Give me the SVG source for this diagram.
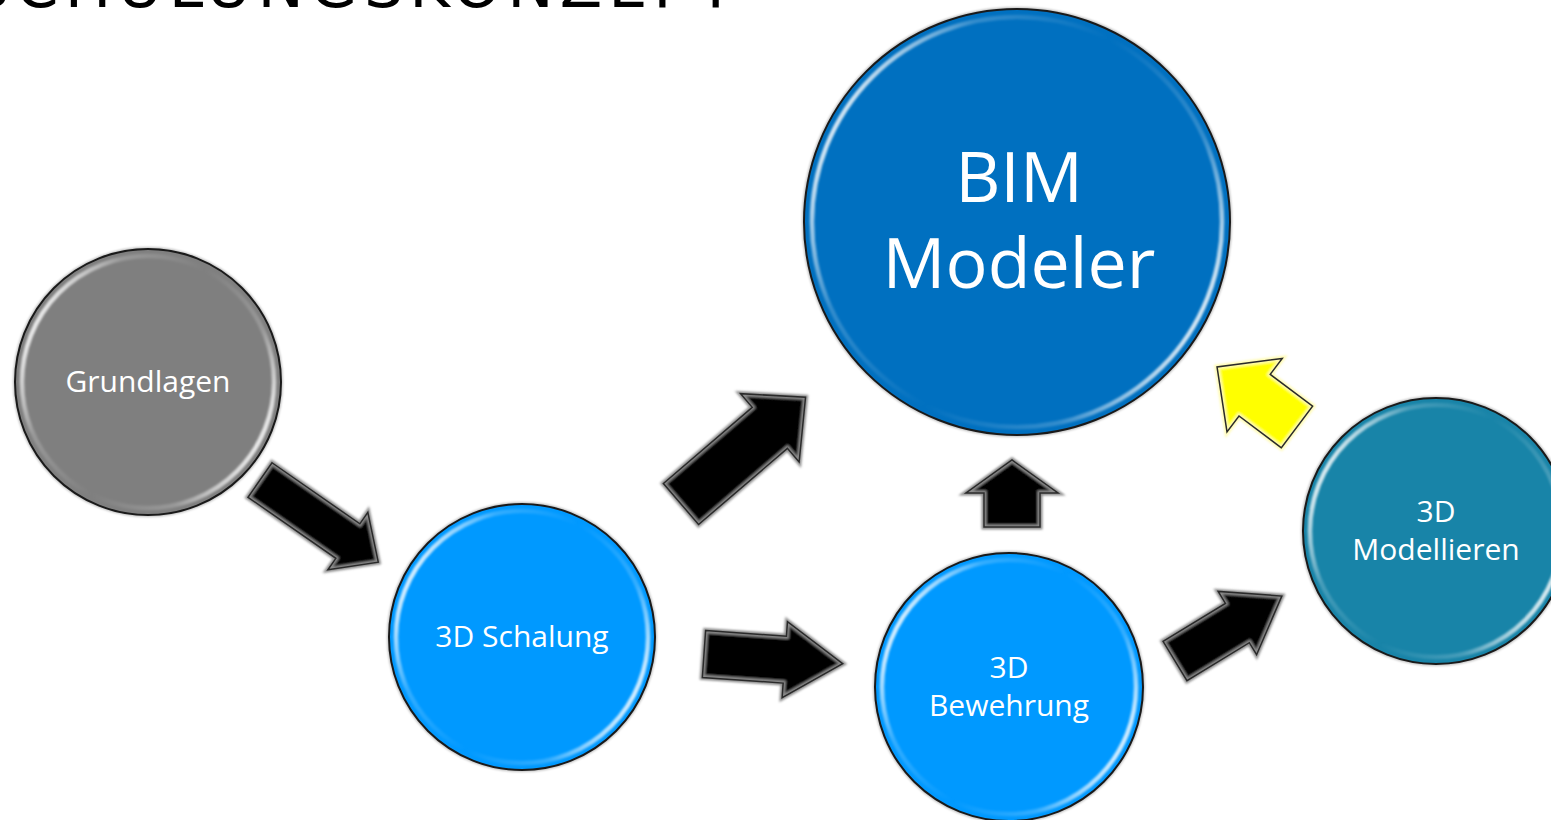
<svg xmlns="http://www.w3.org/2000/svg" width="1551" height="820" viewBox="0 0 1551 820">
  <defs>
    <linearGradient id="rim" x1="0" y1="0.25" x2="1" y2="0.75">
      <stop offset="0" stop-color="#ffffff" stop-opacity="1"/>
      <stop offset="0.22" stop-color="#ffffff" stop-opacity="0.2"/>
      <stop offset="0.5" stop-color="#ffffff" stop-opacity="0"/>
      <stop offset="0.78" stop-color="#ffffff" stop-opacity="0.2"/>
      <stop offset="1" stop-color="#ffffff" stop-opacity="1"/>
    </linearGradient>
    <filter id="soft" x="-10%" y="-10%" width="120%" height="120%">
      <feGaussianBlur stdDeviation="1.2"/>
    </filter>
    <filter id="soft2" x="-20%" y="-20%" width="140%" height="140%">
      <feGaussianBlur stdDeviation="0.9"/>
    </filter>
  </defs>
  <style>
    .title { font-family: "DejaVu Sans", "Liberation Sans", sans-serif; font-size: 62px; fill: #000; letter-spacing: 6px; }
    .lbl { font-family: "Open Sans", "Noto Sans", sans-serif; fill: #ffffff; text-anchor: middle; }
    .s { font-size: 30px; }
    .b { font-size: 70px; }
    .outline { stroke: #1a1a1a; stroke-width: 2; }
    .halo { fill: none; stroke: #000; stroke-opacity: 0.25; stroke-width: 4; }
    .rim { fill: none; stroke: url(#rim); stroke-width: 4.5; }
    .abody { fill: #000; stroke: #8c8c8c; stroke-width: 5; stroke-linejoin: miter; }
    .aline { fill: none; stroke: #2a2a2a; stroke-width: 1.5; stroke-linejoin: miter; }
    .ybody { fill: #ffff00; stroke: #fffbb0; stroke-width: 5; stroke-linejoin: miter; }
  </style>

  <text class="title" x="-30" y="7">SCHULUNGSKONZEPT</text>

  <g id="node-grundlagen">
    <circle class="halo" cx="148" cy="382" r="133" filter="url(#soft)"/>
    <circle class="outline" cx="148" cy="382" r="133" fill="#7f7f7f"/>
    <circle class="rim" cx="148" cy="382" r="126" filter="url(#soft2)"/>
    <text class="lbl s" x="148" y="392">Grundlagen</text>
  </g>

  <g id="node-schalung">
    <circle class="halo" cx="522" cy="637" r="133" filter="url(#soft)"/>
    <circle class="outline" cx="522" cy="637" r="133" fill="#0099ff"/>
    <circle class="rim" cx="522" cy="637" r="126" filter="url(#soft2)"/>
    <text class="lbl s" x="522" y="647">3D Schalung</text>
  </g>

  <g id="node-bewehrung">
    <circle class="halo" cx="1009" cy="687" r="134" filter="url(#soft)"/>
    <circle class="outline" cx="1009" cy="687" r="134" fill="#0099ff"/>
    <circle class="rim" cx="1009" cy="687" r="127" filter="url(#soft2)"/>
    <text class="lbl s" x="1009" y="678">3D</text>
    <text class="lbl s" x="1009" y="716">Bewehrung</text>
  </g>

  <g id="node-modellieren">
    <circle class="halo" cx="1436" cy="531" r="133" filter="url(#soft)"/>
    <circle class="outline" cx="1436" cy="531" r="133" fill="#1884a8"/>
    <circle class="rim" cx="1436" cy="531" r="126" filter="url(#soft2)"/>
    <text class="lbl s" x="1436" y="522">3D</text>
    <text class="lbl s" x="1436" y="560">Modellieren</text>
  </g>

  <g id="node-bim">
    <circle class="halo" cx="1017" cy="222" r="213" filter="url(#soft)"/>
    <circle class="outline" cx="1017" cy="222" r="213" fill="#0070c0"/>
    <circle class="rim" cx="1017" cy="222" r="205" filter="url(#soft2)"/>
    <text class="lbl b" x="1019" y="202">BIM</text>
    <text class="lbl b" x="1019" y="288">Modeler</text>
  </g>

  <g id="connectors">
    <!-- Grundlagen -> 3D Schalung -->
    <g transform="translate(260,480) rotate(34.8)">
      <polygon class="abody" points="0,-21 107,-21 107,-35 144,0 107,35 107,21 0,21" filter="url(#soft2)"/>
      <polygon class="aline" points="0,-21 107,-21 107,-35 144,0 107,35 107,21 0,21"/>
    </g>
    <!-- 3D Schalung -> BIM Modeler -->
    <g transform="translate(681,504) rotate(-40.6)">
      <polygon class="abody" points="0,-27 117,-27 117,-45 164,0 117,45 117,27 0,27" filter="url(#soft2)"/>
      <polygon class="aline" points="0,-27 117,-27 117,-45 164,0 117,45 117,27 0,27"/>
    </g>
    <!-- 3D Schalung -> 3D Bewehrung -->
    <g transform="translate(704,654) rotate(4)">
      <polygon class="abody" points="0,-23.5 81,-23.5 81,-38 139,0 81,38 81,23.5 0,23.5" filter="url(#soft2)"/>
      <polygon class="aline" points="0,-23.5 81,-23.5 81,-38 139,0 81,38 81,23.5 0,23.5"/>
    </g>
    <!-- 3D Bewehrung -> BIM Modeler -->
    <g transform="translate(1012,527) rotate(-90)">
      <polygon class="abody" points="0,-28 34,-28 34,-46 67,0 34,46 34,28 0,28" filter="url(#soft2)"/>
      <polygon class="aline" points="0,-28 34,-28 34,-46 67,0 34,46 34,28 0,28"/>
    </g>
    <!-- 3D Bewehrung -> 3D Modellieren -->
    <g transform="translate(1175,661) rotate(-31.3)">
      <polygon class="abody" points="0,-23 73,-23 73,-37 125,0 73,37 73,23 0,23" filter="url(#soft2)"/>
      <polygon class="aline" points="0,-23 73,-23 73,-37 125,0 73,37 73,23 0,23"/>
    </g>
    <!-- 3D Modellieren -> BIM Modeler (yellow) -->
    <g transform="translate(1297,427) rotate(-143.1)">
      <polygon class="ybody" points="0,-26 53,-26 53,-46 100,0 53,46 53,26 0,26" filter="url(#soft2)"/>
      <polygon class="aline" points="0,-26 53,-26 53,-46 100,0 53,46 53,26 0,26"/>
    </g>
  </g>
</svg>
